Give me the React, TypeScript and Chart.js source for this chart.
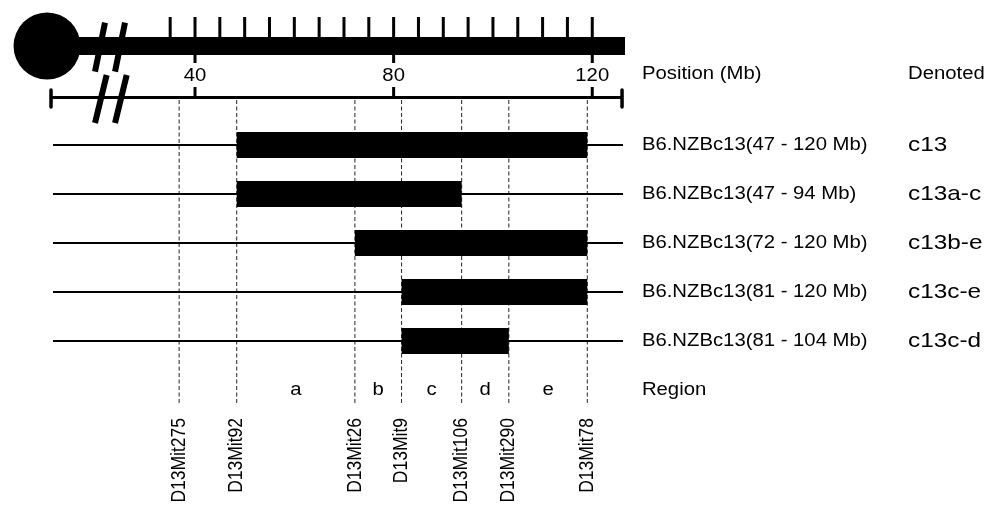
import { useEffect, useRef } from 'react';
import { Chart, registerables } from 'chart.js';

Chart.register(...registerables);

// ---------- data ----------
const markerNames = ['D13Mit275', 'D13Mit92', 'D13Mit26', 'D13Mit9', 'D13Mit106', 'D13Mit290', 'D13Mit78'];
const markerPositions = [36.8, 48.4, 72.2, 81.6, 93.7, 103.2, 119.0]; // Mb

const strainLabels = [
  'B6.NZBc13(47 - 120 Mb)',
  'B6.NZBc13(47 - 94 Mb)',
  'B6.NZBc13(72 - 120 Mb)',
  'B6.NZBc13(81 - 120 Mb)',
  'B6.NZBc13(81 - 104 Mb)',
];
const denotedLabels = ['c13', 'c13a-c', 'c13b-e', 'c13c-e', 'c13c-d'];
const intervalStart = [48.4, 48.4, 72.2, 81.6, 81.6]; // Mb
const intervalEnd = [119.0, 93.7, 119.0, 119.0, 103.2]; // Mb
const rowIndex = [1, 2, 3, 4, 5];

const regionLetters = ['a', 'b', 'c', 'd', 'e'];
const rulerTicks = [35, 40, 45, 50, 55, 60, 65, 70, 75, 80, 85, 90, 95, 100, 105, 110, 115, 120];
const majorTicks = [40, 80, 120];
const majorTickLabels = ['40', '80', '120'];

const chromStart = 10.2;
const chromEnd = 126.6;
const axisStart = 11.0;
const axisEnd = 126.0;
const lineStart = 11.4;
const lineEnd = 126.2;

// ---------- layout (row units on y, Mb on x) ----------
const X_MIN = 0.725;
const X_MAX = 199.5;
const Y_MIN = -1.959;
const Y_MAX = 8.531;
const RULER_Y = -1.02;
const TICK_TOP = -1.612;
const MAJOR_TICK_BOTTOM = -0.673;
const TICK_LABEL_Y = -0.41;
const AXIS_Y = 0.03;
const AXIS_TICK_TOP = -0.184;
const CAP_TOP = -0.122;
const CAP_BOTTOM = 0.224;
const DASH_TOP = 0.082;
const DASH_BOTTOM = 6.265;
const REGION_Y = 6.0;
const MARKER_LABEL_END = 6.571;
const LABEL_COL = 130.0;
const DENOTED_COL = 183.6;
const slashes = [
  [[21.87, -1.496], [19.86, -0.496]],
  [[25.9, -1.496], [23.89, -0.496]],
  [[22.2, -0.429], [19.86, 0.551]],
  [[26.24, -0.429], [23.89, 0.551]],
];

const FONT = '"Liberation Sans", Arial, Helvetica, sans-serif';
const STRETCH = 1.16;

type P = { x: number; y: number | null };
const gap = (x: number): P => ({ x, y: null });

function segments(list: Array<[number, number, number, number]>): P[] {
  const out: P[] = [];
  list.forEach(([x1, y1, x2, y2], i) => {
    if (i > 0) out.push(gap(x1));
    out.push({ x: x1, y: y1 }, { x: x2, y: y2 });
  });
  return out;
}

const textPlugin = {
  id: 'diagramText',
  afterDatasetsDraw(chart: any) {
    const { ctx } = chart;
    const xs = chart.scales.x;
    const ys = chart.scales.y;
    const draw = (txt: string, px: number, py: number, size: number, align: CanvasTextAlign, rotate = false) => {
      ctx.save();
      ctx.translate(px, py);
      ctx.scale(STRETCH, 1);
      if (rotate) ctx.rotate(-Math.PI / 2);
      ctx.font = `${size}px ${FONT}`;
      ctx.textAlign = align;
      ctx.textBaseline = 'middle';
      ctx.fillStyle = '#000';
      ctx.fillText(txt, 0, 0);
      ctx.restore();
    };
    majorTicks.forEach((t, i) => draw(majorTickLabels[i], xs.getPixelForValue(t), ys.getPixelForValue(TICK_LABEL_Y), 17.5, 'center'));
    draw('Position (Mb)', xs.getPixelForValue(LABEL_COL), ys.getPixelForValue(TICK_LABEL_Y - 0.03), 17.5, 'left');
    draw('Denoted', xs.getPixelForValue(DENOTED_COL), ys.getPixelForValue(TICK_LABEL_Y - 0.03), 17.5, 'left');
    rowIndex.forEach((r, i) => {
      draw(strainLabels[i], xs.getPixelForValue(LABEL_COL), ys.getPixelForValue(r), 17.5, 'left');
      draw(denotedLabels[i], xs.getPixelForValue(DENOTED_COL), ys.getPixelForValue(r), 21, 'left');
    });
    regionLetters.forEach((l, i) => {
      const mid = (markerPositions[i + 1] + markerPositions[i + 2]) / 2;
      draw(l, xs.getPixelForValue(mid), ys.getPixelForValue(REGION_Y), 17.5, 'center');
    });
    draw('Region', xs.getPixelForValue(LABEL_COL), ys.getPixelForValue(REGION_Y), 17.5, 'left');
    markerNames.forEach((n, i) => {
      draw(n, xs.getPixelForValue(markerPositions[i]), ys.getPixelForValue(MARKER_LABEL_END), 17.5, 'right', true);
    });
  },
};

export default function App() {
  const ref = useRef<HTMLCanvasElement | null>(null);
  useEffect(() => {
    if (!ref.current) return;
    const black = '#000';
    const base = { pointRadius: 0, showLine: true, spanGaps: false, fill: false, clip: false as any, borderCapStyle: 'butt' as const };
    const datasets: any[] = [
      // interval bars
      {
        ...base,
        label: 'intervals',
        data: segments(rowIndex.map((r, i) => [intervalStart[i], r, intervalEnd[i], r])),
        borderColor: black,
        borderWidth: 26,
      },
      // thin chromosome lines
      {
        ...base,
        label: 'rows',
        data: segments(rowIndex.map((r) => [lineStart, r, lineEnd, r])),
        borderColor: black,
        borderWidth: 2,
      },
      // marker dashed lines
      {
        ...base,
        label: 'markers',
        data: segments(markerPositions.map((m) => [m, DASH_TOP, m, DASH_BOTTOM])),
        borderColor: '#222',
        borderWidth: 1,
        borderDash: [4, 2.5],
      },
      // centromere
      {
        label: 'centromere',
        data: [{ x: chromStart, y: RULER_Y }],
        showLine: false,
        pointRadius: 33.5,
        pointBackgroundColor: black,
        pointBorderWidth: 0,
        clip: false,
      },
      // chromosome bar
      {
        ...base,
        label: 'chromosome',
        data: [{ x: chromStart, y: RULER_Y }, { x: chromEnd, y: RULER_Y }],
        borderColor: black,
        borderWidth: 18,
      },
      // ruler ticks
      {
        ...base,
        label: 'rulerTicks',
        data: segments(rulerTicks.map((t) => [t, TICK_TOP, t, majorTicks.includes(t) ? MAJOR_TICK_BOTTOM : RULER_Y])),
        borderColor: black,
        borderWidth: 3,
      },
      // break slashes
      {
        ...base,
        label: 'breaks',
        data: segments(slashes.map(([a, b]) => [a[0], a[1], b[0], b[1]])),
        borderColor: black,
        borderWidth: 6,
      },
      // position axis
      {
        ...base,
        label: 'axis',
        data: [{ x: axisStart, y: AXIS_Y }, { x: axisEnd, y: AXIS_Y }],
        borderColor: black,
        borderWidth: 3,
      },
      {
        ...base,
        label: 'axisTicks',
        data: segments([
          ...majorTicks.map((t) => [t, AXIS_TICK_TOP, t, AXIS_Y] as [number, number, number, number]),
        ]),
        borderColor: black,
        borderWidth: 3,
      },
      {
        ...base,
        label: 'axisCaps',
        data: segments([
          [axisStart, CAP_TOP, axisStart, CAP_BOTTOM],
          [axisEnd, CAP_TOP, axisEnd, CAP_BOTTOM],
        ]),
        borderColor: black,
        borderWidth: 3.5,
        borderCapStyle: 'round',
      },
    ];
    const chart = new Chart(ref.current, {
      type: 'line',
      data: { datasets },
      options: {
        animation: false,
        responsive: false,
        events: [],
        layout: { padding: 0, autoPadding: false },
        plugins: { legend: { display: false }, tooltip: { enabled: false }, title: { display: false } },
        elements: { line: { tension: 0 } },
        scales: {
          x: { type: 'linear', display: false, min: X_MIN, max: X_MAX },
          y: { type: 'linear', display: false, min: Y_MIN, max: Y_MAX, reverse: true },
        },
      },
      plugins: [textPlugin],
    });
    return () => chart.destroy();
  }, []);
  return (
    <div style={{ position: 'absolute', left: 0, top: 0, width: 987, height: 514, background: '#fff' }}>
      <canvas ref={ref} width={987} height={514} style={{ display: 'block' }} />
    </div>
  );
}
